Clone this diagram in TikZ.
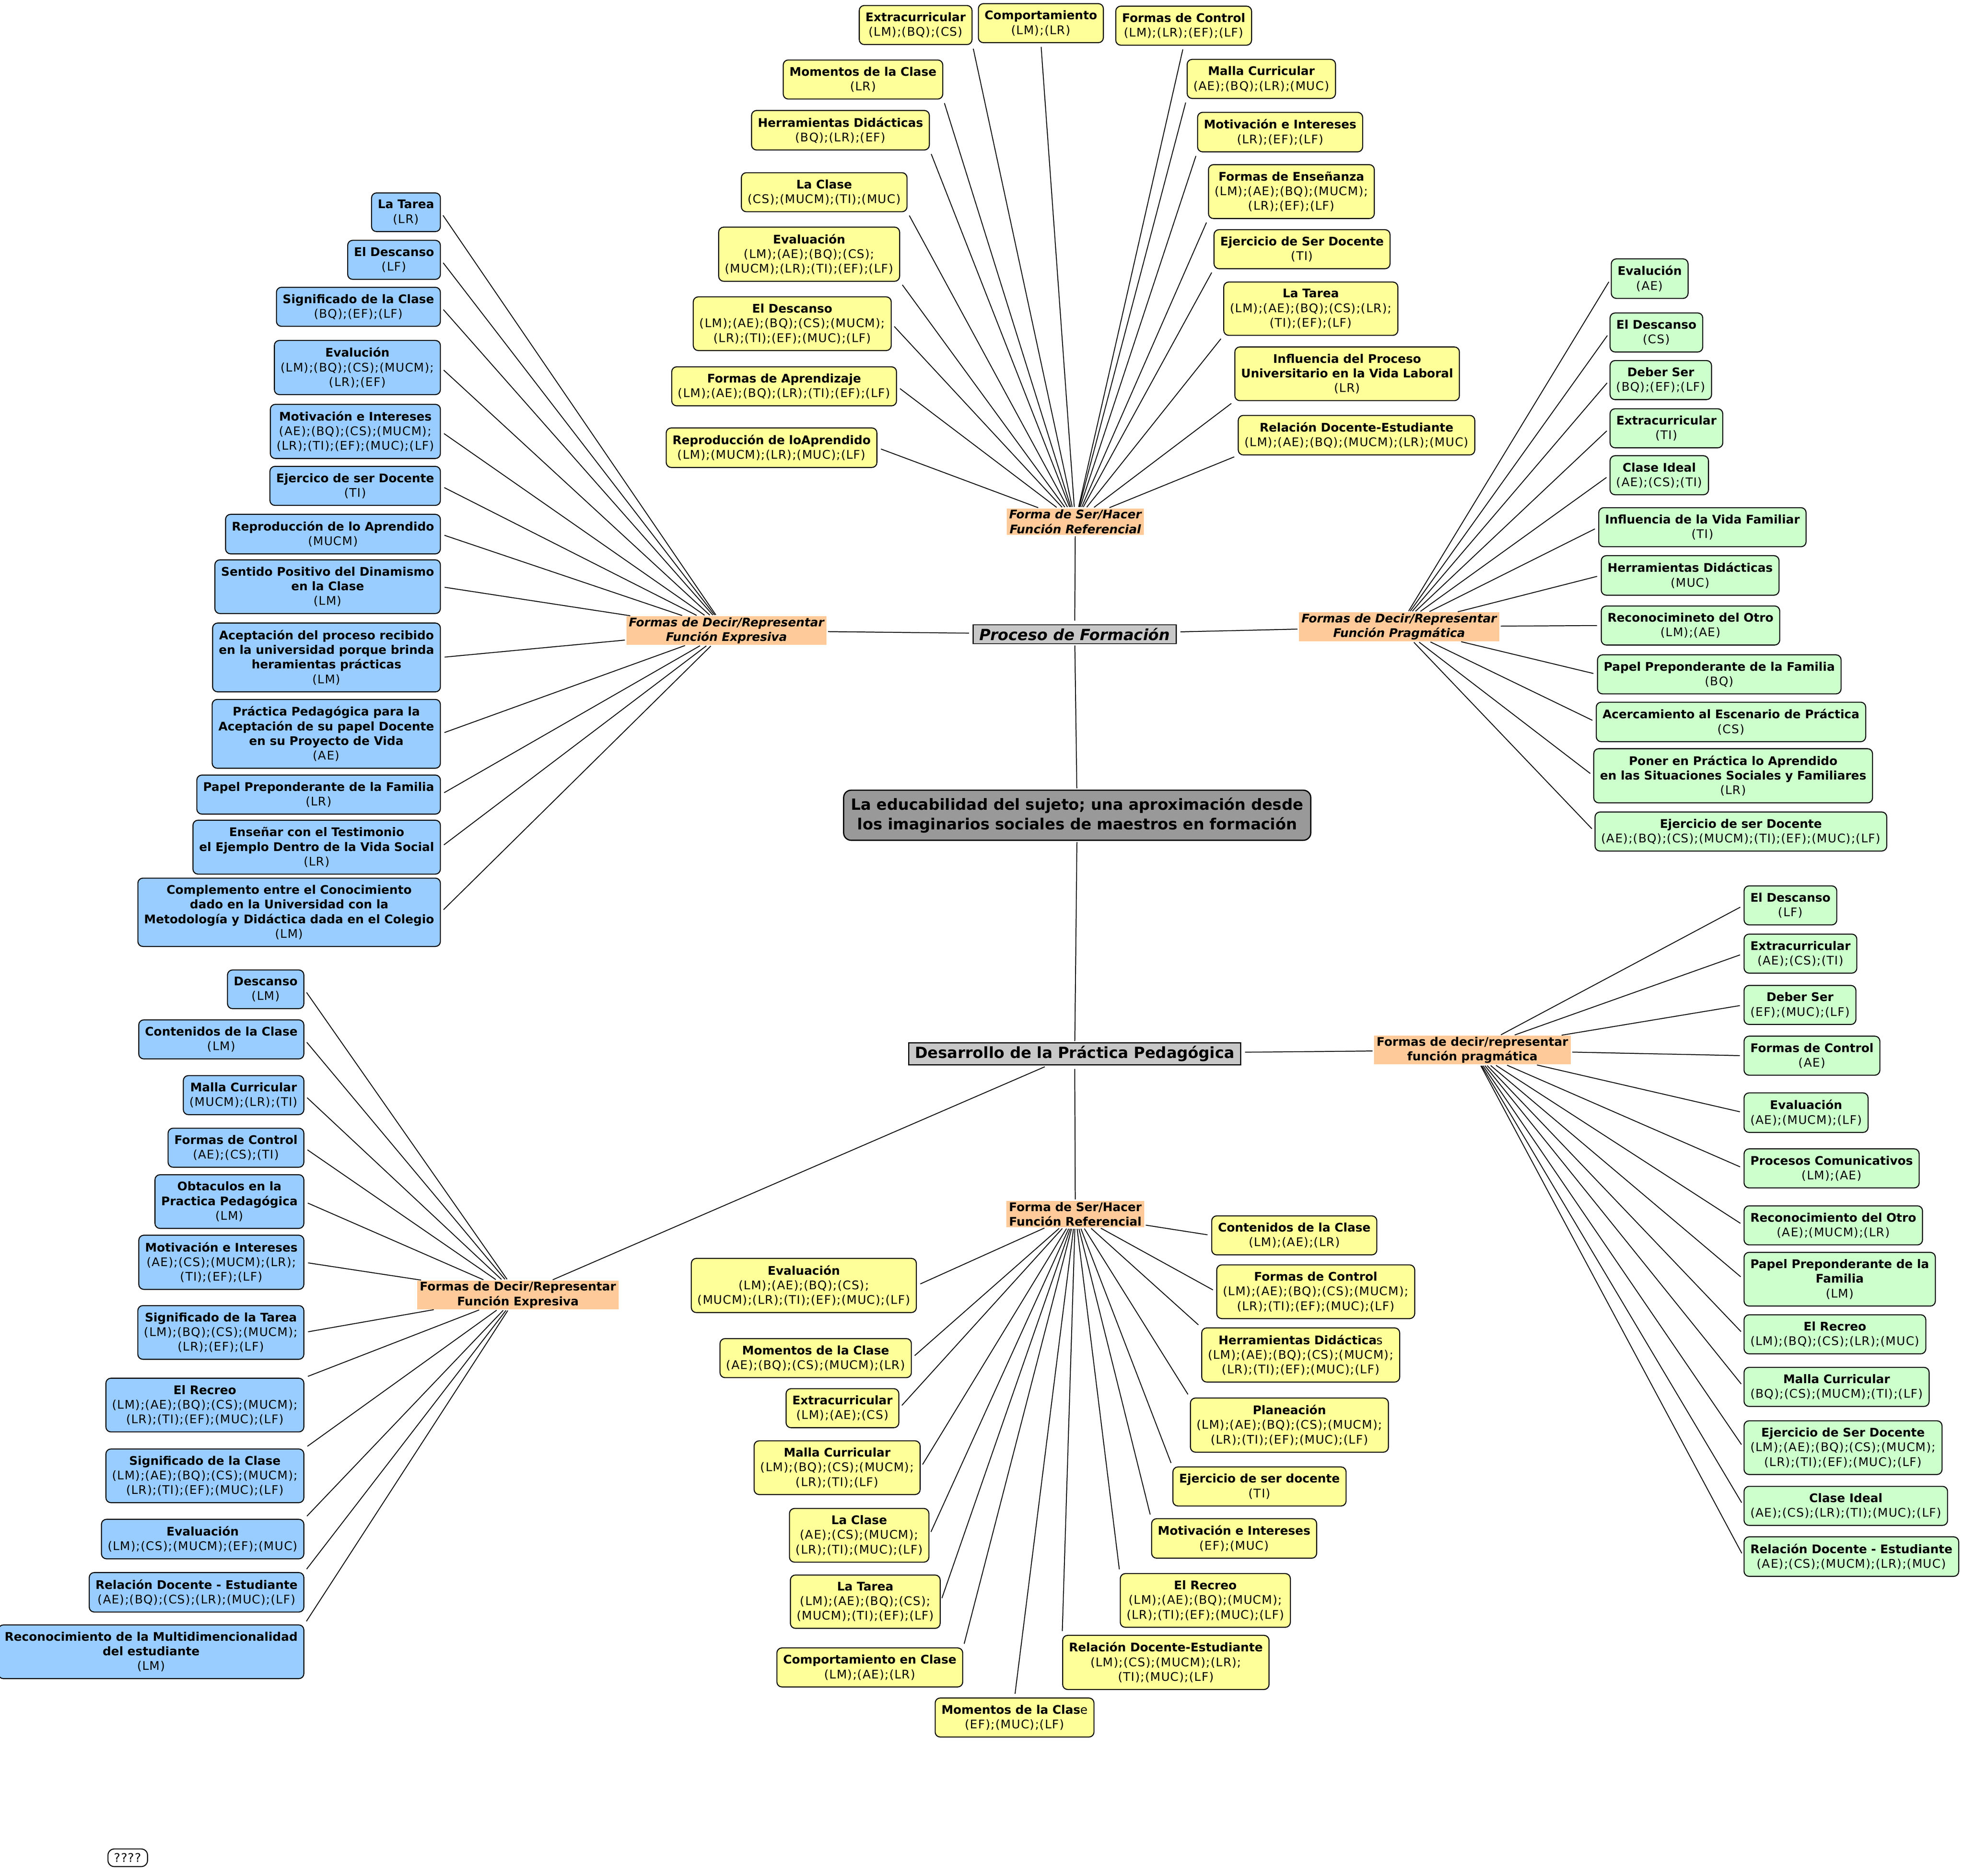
\documentclass[tikz,border=0pt]{standalone}
\usepackage{fontspec}
\setmainfont{DejaVu Sans}[UprightFeatures={LetterSpace=5}]
\definecolor{yelfill}{HTML}{FFFF99}
\definecolor{blufill}{HTML}{99CCFF}
\definecolor{grnfill}{HTML}{CCFFCC}
\definecolor{orgfill}{HTML}{FFCA99}
\definecolor{topicfill}{HTML}{C8C8C8}
\definecolor{rootfill}{HTML}{999999}
\begin{document}
\begin{tikzpicture}[x=1pt,y=1pt]
                      \tikzstyle{every node}+=[font=\fontsize{9.5}{11.7}\selectfont]
                      \tikzstyle{bx}=[draw=black, line width=0.8pt, rounded corners=4pt, align=center, inner xsep=5pt, inner ysep=5.5pt]
                      \tikzstyle{yel}=[bx, fill=yelfill]
                      \tikzstyle{blu}=[bx, fill=blufill]
                      \tikzstyle{grn}=[bx, fill=grnfill]
                      \tikzstyle{hub}=[fill=orgfill, align=center, inner xsep=2pt, inner ysep=1pt, font=\fontsize{9.5}{11.7}\selectfont\bfseries]
                      \tikzstyle{hubit}=[hub, font=\fontsize{9.5}{11.7}\selectfont\bfseries\itshape]
                      \tikzstyle{topic}=[draw=black, line width=0.8pt, fill=topicfill, inner xsep=5pt, inner ysep=2.5pt, font=\fontsize{12.3}{15.5}\selectfont\bfseries]
                      \tikzstyle{lnk}=[black, line width=0.7pt, shorten <=3pt, shorten >=1pt]
                      \useasboundingbox (0,0) rectangle (1568,-1498);
                      \node [bx, fill=rootfill, line width=1pt, rounded corners=6pt, inner xsep=6pt, inner ysep=6pt, font=\fontsize{12.3}{15.5}\selectfont\bfseries] (root) at (860,-651) {La educabilidad del sujeto; una aproximación desde\\ los imaginarios sociales de maestros en formación};
                      \node [topic, font=\fontsize{12.3}{15.5}\selectfont\bfseries\itshape] (proc) at (858,-506.5) {Proceso de Formación};
                      \node [topic] (desa) at (858,-841.5) {Desarrollo de la Práctica Pedagógica};
                      \node [hubit] (tr) at (858.5,-416.5) {Forma de Ser/Hacer\\Función Referencial};
                      \node [hubit] (le) at (580,-503.5) {Formas de Decir/Representar\\Función Expresiva};
                      \node [hubit] (rp) at (1117,-500.5) {Formas de Decir/Representar\\Función Pragmática};
                      \node [hub] (rl) at (1175.5,-838.5) {Formas de decir/representar\\función pragmática};
                      \node [hub] (br) at (858.5,-969.5) {Forma de Ser/Hacer\\Función Referencial};
                      \node [hub] (bl) at (413.5,-1034) {Formas de Decir/Representar\\Función Expresiva};
                      \draw [lnk, shorten <=1pt] (root) -- (proc);
                      \draw [lnk, shorten <=1pt] (root) -- (desa);
                      \draw [lnk] (proc) -- (tr);
                      \draw [lnk] (proc) -- (le);
                      \draw [lnk] (proc) -- (rp);
                      \draw [lnk] (desa) -- (rl);
                      \draw [lnk] (desa) -- (br);
                      \draw [lnk] (desa) -- (bl);
                      \node [yel] (ta) at (731,-20) {\textbf{Extracurricular}\\(LM);(BQ);(CS)};
                      \node [yel] (tb) at (831,-18.5) {\textbf{Comportamiento}\\(LM);(LR)};
                      \node [yel] (tc) at (945,-20.5) {\textbf{Formas de Control}\\(LM);(LR);(EF);(LF)};
                      \node [yel] (td) at (689,-63.5) {\textbf{Momentos de la Clase}\\(LR)};
                      \node [yel] (te) at (1007,-63) {\textbf{Malla Curricular}\\(AE);(BQ);(LR);(MUC)};
                      \node [yel] (tf) at (671,-104) {\textbf{Herramientas Didácticas}\\(BQ);(LR);(EF)};
                      \node [yel] (tg) at (1022,-105.5) {\textbf{Motivación e Intereses}\\(LR);(EF);(LF)};
                      \node [yel] (th) at (658,-153.5) {\textbf{La Clase}\\(CS);(MUCM);(TI);(MUC)};
                      \node [yel] (ti) at (1031,-153) {\textbf{Formas de Enseñanza}\\(LM);(AE);(BQ);(MUCM);\\(LR);(EF);(LF)};
                      \node [yel] (tj) at (646,-203) {\textbf{Evaluación}\\(LM);(AE);(BQ);(CS);\\(MUCM);(LR);(TI);(EF);(LF)};
                      \node [yel] (tk) at (1039.5,-199) {\textbf{Ejercicio de Ser Docente}\\(TI)};
                      \node [yel] (tl) at (632.5,-258.5) {\textbf{El Descanso}\\(LM);(AE);(BQ);(CS);(MUCM);\\(LR);(TI);(EF);(MUC);(LF)};
                      \node [yel] (tm) at (1046.5,-246.5) {\textbf{La Tarea}\\(LM);(AE);(BQ);(CS);(LR);\\(TI);(EF);(LF)};
                      \node [yel] (tn) at (626,-308.5) {\textbf{Formas de Aprendizaje}\\(LM);(AE);(BQ);(LR);(TI);(EF);(LF)};
                      \node [yel] (to) at (1075.5,-298.5) {\textbf{Influencia del Proceso}\\\textbf{Universitario en la Vida Laboral}\\(LR)};
                      \node [yel] (tp) at (616,-357.5) {\textbf{Reproducción de loAprendido}\\(LM);(MUCM);(LR);(MUC);(LF)};
                      \node [yel] (tq) at (1083,-347.5) {\textbf{Relación Docente-Estudiante}\\(LM);(AE);(BQ);(MUCM);(LR);(MUC)};
                      \draw [lnk] (ta.south east) -- (tr);
                      \draw [lnk] (tb.south) -- (tr);
                      \draw [lnk] (tc.south) -- (tr);
                      \draw [lnk] (td.south east) -- (tr);
                      \draw [lnk] (te.south west) -- (tr);
                      \draw [lnk] (tf.south east) -- (tr);
                      \draw [lnk] (tg.south west) -- (tr);
                      \draw [lnk] (th.south east) -- (tr);
                      \draw [lnk] (ti.south west) -- (tr);
                      \draw [lnk] (tj.south east) -- (tr);
                      \draw [lnk] (tk.south west) -- (tr);
                      \draw [lnk] (tl.east) -- (tr);
                      \draw [lnk] (tm.south west) -- (tr);
                      \draw [lnk] (tn.east) -- (tr);
                      \draw [lnk] (to.south west) -- (tr);
                      \draw [lnk] (tp.east) -- (tr);
                      \draw [lnk] (tq.south west) -- (tr);
                      \node [blu, anchor=east] (la1) at (352,-169.5) {\textbf{La Tarea}\\(LR)};
                      \node [blu, anchor=east] (la2) at (352,-207.5) {\textbf{El Descanso}\\(LF)};
                      \node [blu, anchor=east] (la3) at (352,-245) {\textbf{Significado de la Clase}\\(BQ);(EF);(LF)};
                      \node [blu, anchor=east] (la4) at (352,-293.5) {\textbf{Evalución}\\(LM);(BQ);(CS);(MUCM);\\(LR);(EF)};
                      \node [blu, anchor=east] (la5) at (352,-344.5) {\textbf{Motivación e Intereses}\\(AE);(BQ);(CS);(MUCM);\\(LR);(TI);(EF);(MUC);(LF)};
                      \node [blu, anchor=east] (la6) at (352,-388) {\textbf{Ejercico de ser Docente}\\(TI)};
                      \node [blu, anchor=east] (la7) at (352,-426.5) {\textbf{Reproducción de lo Aprendido}\\(MUCM)};
                      \node [blu, anchor=east] (la8) at (352,-468.5) {\textbf{Sentido Positivo del Dinamismo}\\\textbf{en la Clase}\\(LM)};
                      \node [blu, anchor=east] (la9) at (352,-525) {\textbf{Aceptación del proceso recibido}\\\textbf{en la universidad porque brinda}\\\textbf{heramientas prácticas}\\(LM)};
                      \node [blu, anchor=east] (la10) at (352,-586) {\textbf{Práctica Pedagógica para la}\\\textbf{Aceptación de su papel Docente}\\\textbf{en su Proyecto de Vida}\\(AE)};
                      \node [blu, anchor=east] (la11) at (352,-634.5) {\textbf{Papel Preponderante de la Familia}\\(LR)};
                      \node [blu, anchor=east] (la12) at (352,-676.5) {\textbf{Enseñar con el Testimonio}\\\textbf{el Ejemplo Dentro de la Vida Social}\\(LR)};
                      \node [blu, anchor=east] (la13) at (352,-728.5) {\textbf{Complemento entre el Conocimiento}\\\textbf{dado en la Universidad con la}\\\textbf{Metodología y Didáctica dada en el Colegio}\\(LM)};
                      \draw [lnk] (la1.east) -- (le);
                      \draw [lnk] (la2.east) -- (le);
                      \draw [lnk] (la3.east) -- (le);
                      \draw [lnk] (la4.east) -- (le);
                      \draw [lnk] (la5.east) -- (le);
                      \draw [lnk] (la6.east) -- (le);
                      \draw [lnk] (la7.east) -- (le);
                      \draw [lnk] (la8.east) -- (le);
                      \draw [lnk] (la9.east) -- (le);
                      \draw [lnk] (la10.east) -- (le);
                      \draw [lnk] (la11.east) -- (le);
                      \draw [lnk] (la12.east) -- (le);
                      \draw [lnk] (la13.east) -- (le);
                      \node [grn, anchor=west] (ra1) at (1286,-222.5) {\textbf{Evalución}\\(AE)};
                      \node [grn, anchor=west] (ra2) at (1285,-265.5) {\textbf{El Descanso}\\(CS)};
                      \node [grn, anchor=west] (ra3) at (1285,-303.5) {\textbf{Deber Ser}\\(BQ);(EF);(LF)};
                      \node [grn, anchor=west] (ra4) at (1285,-342) {\textbf{Extracurricular}\\(TI)};
                      \node [grn, anchor=west] (ra5) at (1285,-379.5) {\textbf{Clase Ideal}\\(AE);(CS);(TI)};
                      \node [grn, anchor=west] (ra6) at (1276,-421) {\textbf{Influencia de la Vida Familiar}\\(TI)};
                      \node [grn, anchor=west] (ra7) at (1278,-459.5) {\textbf{Herramientas Didácticas}\\(MUC)};
                      \node [grn, anchor=west] (ra8) at (1278,-499.5) {\textbf{Reconocimineto del Otro}\\(LM);(AE)};
                      \node [grn, anchor=west] (ra9) at (1275,-538.5) {\textbf{Papel Preponderante de la Familia}\\(BQ)};
                      \node [grn, anchor=west] (ra10) at (1274,-576.5) {\textbf{Acercamiento al Escenario de Práctica}\\(CS)};
                      \node [grn, anchor=west] (ra11) at (1272,-619.5) {\textbf{Poner en Práctica lo Aprendido}\\\textbf{en las Situaciones Sociales y Familiares}\\(LR)};
                      \node [grn, anchor=west] (ra12) at (1273,-664) {\textbf{Ejercicio de ser Docente}\\(AE);(BQ);(CS);(MUCM);(TI);(EF);(MUC);(LF)};
                      \draw [lnk] (ra1.west) -- (rp);
                      \draw [lnk] (ra2.west) -- (rp);
                      \draw [lnk] (ra3.west) -- (rp);
                      \draw [lnk] (ra4.west) -- (rp);
                      \draw [lnk] (ra5.west) -- (rp);
                      \draw [lnk] (ra6.west) -- (rp);
                      \draw [lnk] (ra7.west) -- (rp);
                      \draw [lnk] (ra8.west) -- (rp);
                      \draw [lnk] (ra9.west) -- (rp);
                      \draw [lnk] (ra10.west) -- (rp);
                      \draw [lnk] (ra11.west) -- (rp);
                      \draw [lnk] (ra12.west) -- (rp);
                      \node [grn, anchor=west] (rb1) at (1392,-723) {\textbf{El Descanso}\\(LF)};
                      \node [grn, anchor=west] (rb2) at (1392,-761.5) {\textbf{Extracurricular}\\(AE);(CS);(TI)};
                      \node [grn, anchor=west] (rb3) at (1392,-802.5) {\textbf{Deber Ser}\\(EF);(MUC);(LF)};
                      \node [grn, anchor=west] (rb4) at (1392,-843) {\textbf{Formas de Control}\\(AE)};
                      \node [grn, anchor=west] (rb5) at (1392,-888.5) {\textbf{Evaluación}\\(AE);(MUCM);(LF)};
                      \node [grn, anchor=west] (rb6) at (1392,-933) {\textbf{Procesos Comunicativos}\\(LM);(AE)};
                      \node [grn, anchor=west] (rb7) at (1392,-978.5) {\textbf{Reconocimiento del Otro}\\(AE);(MUCM);(LR)};
                      \node [grn, anchor=west] (rb8) at (1392,-1021.5) {\textbf{Papel Preponderante de la}\\\textbf{Familia}\\(LM)};
                      \node [grn, anchor=west] (rb9) at (1392,-1065.5) {\textbf{El Recreo}\\(LM);(BQ);(CS);(LR);(MUC)};
                      \node [grn, anchor=west] (rb10) at (1392,-1107.5) {\textbf{Malla Curricular}\\(BQ);(CS);(MUCM);(TI);(LF)};
                      \node [grn, anchor=west] (rb11) at (1392,-1156) {\textbf{Ejercicio de Ser Docente}\\(LM);(AE);(BQ);(CS);(MUCM);\\(LR);(TI);(EF);(MUC);(LF)};
                      \node [grn, anchor=west] (rb12) at (1392,-1202.5) {\textbf{Clase Ideal}\\(AE);(CS);(LR);(TI);(MUC);(LF)};
                      \node [grn, anchor=west] (rb13) at (1392,-1243) {\textbf{Relación Docente - Estudiante}\\(AE);(CS);(MUCM);(LR);(MUC)};
                      \draw [lnk] (rb1.west) -- (rl);
                      \draw [lnk] (rb2.west) -- (rl);
                      \draw [lnk] (rb3.west) -- (rl);
                      \draw [lnk] (rb4.west) -- (rl);
                      \draw [lnk] (rb5.west) -- (rl);
                      \draw [lnk] (rb6.west) -- (rl);
                      \draw [lnk] (rb7.west) -- (rl);
                      \draw [lnk] (rb8.west) -- (rl);
                      \draw [lnk] (rb9.west) -- (rl);
                      \draw [lnk] (rb10.west) -- (rl);
                      \draw [lnk] (rb11.west) -- (rl);
                      \draw [lnk] (rb12.west) -- (rl);
                      \draw [lnk] (rb13.west) -- (rl);
                      \node [yel, anchor=east] (ba1) at (732,-1026.5) {\textbf{Evaluación}\\(LM);(AE);(BQ);(CS);\\(MUCM);(LR);(TI);(EF);(MUC);(LF)};
                      \node [yel, anchor=east] (ba2) at (728,-1084.5) {\textbf{Momentos de la Clase}\\(AE);(BQ);(CS);(MUCM);(LR)};
                      \node [yel, anchor=east] (ba3) at (718,-1124.5) {\textbf{Extracurricular}\\(LM);(AE);(CS)};
                      \node [yel, anchor=east] (ba4) at (735,-1172) {\textbf{Malla Curricular}\\(LM);(BQ);(CS);(MUCM);\\(LR);(TI);(LF)};
                      \node [yel, anchor=east] (ba5) at (742,-1226) {\textbf{La Clase}\\(AE);(CS);(MUCM);\\(LR);(TI);(MUC);(LF)};
                      \node [yel, anchor=east] (ba6) at (751,-1279) {\textbf{La Tarea}\\(LM);(AE);(BQ);(CS);\\(MUCM);(TI);(EF);(LF)};
                      \node [yel, anchor=east] (ba7) at (769,-1331.5) {\textbf{Comportamiento en Clase}\\(LM);(AE);(LR)};
                      \node [yel] (ba8) at (810,-1371.5) {\textbf{Momentos de la Clas}e\\(EF);(MUC);(LF)};
                      \node [yel, anchor=west] (bb1) at (967,-986.5) {\textbf{Contenidos de la Clase}\\(LM);(AE);(LR)};
                      \node [yel, anchor=west] (bb2) at (971,-1031.5) {\textbf{Formas de Control}\\(LM);(AE);(BQ);(CS);(MUCM);\\(LR);(TI);(EF);(MUC);(LF)};
                      \node [yel, anchor=west] (bb3) at (959,-1082) {\textbf{Herramientas Didáctica}s\\(LM);(AE);(BQ);(CS);(MUCM);\\(LR);(TI);(EF);(MUC);(LF)};
                      \node [yel, anchor=west] (bb4) at (950,-1138) {\textbf{Planeación}\\(LM);(AE);(BQ);(CS);(MUCM);\\(LR);(TI);(EF);(MUC);(LF)};
                      \node [yel, anchor=west] (bb5) at (936,-1187) {\textbf{Ejercicio de ser docente}\\(TI)};
                      \node [yel, anchor=west] (bb6) at (919,-1228.5) {\textbf{Motivación e Intereses}\\(EF);(MUC)};
                      \node [yel, anchor=west] (bb7) at (894,-1278) {\textbf{El Recreo}\\(LM);(AE);(BQ);(MUCM);\\(LR);(TI);(EF);(MUC);(LF)};
                      \node [yel, anchor=west] (bb8) at (848,-1327.5) {\textbf{Relación Docente-Estudiante}\\(LM);(CS);(MUCM);(LR);\\(TI);(MUC);(LF)};
                      \draw [lnk] (ba1.east) -- (br);
                      \draw [lnk] (ba2.east) -- (br);
                      \draw [lnk] (ba3.east) -- (br);
                      \draw [lnk] (ba4.east) -- (br);
                      \draw [lnk] (ba5.east) -- (br);
                      \draw [lnk] (ba6.east) -- (br);
                      \draw [lnk] (ba7.north east) -- (br);
                      \draw [lnk] (ba8.north) -- (br);
                      \draw [lnk] (bb1.west) -- (br);
                      \draw [lnk] (bb2.west) -- (br);
                      \draw [lnk] (bb3.north west) -- (br);
                      \draw [lnk] (bb4.north west) -- (br);
                      \draw [lnk] (bb5.north west) -- (br);
                      \draw [lnk] (bb6.north west) -- (br);
                      \draw [lnk] (bb7.north west) -- (br);
                      \draw [lnk] (bb8.north west) -- (br);
                      \node [blu, anchor=east] (lb1) at (243,-790) {\textbf{Descanso}\\(LM)};
                      \node [blu, anchor=east] (lb2) at (243,-830) {\textbf{Contenidos de la Clase}\\(LM)};
                      \node [blu, anchor=east] (lb3) at (243,-874.5) {\textbf{Malla Curricular}\\(MUCM);(LR);(TI)};
                      \node [blu, anchor=east] (lb4) at (243,-916.5) {\textbf{Formas de Control}\\(AE);(CS);(TI)};
                      \node [blu, anchor=east] (lb5) at (243,-959.5) {\textbf{Obtaculos en la}\\\textbf{Practica Pedagógica}\\(LM)};
                      \node [blu, anchor=east] (lb6) at (243,-1008) {\textbf{Motivación e Intereses}\\(AE);(CS);(MUCM);(LR);\\(TI);(EF);(LF)};
                      \node [blu, anchor=east] (lb7) at (243,-1064) {\textbf{Significado de la Tarea}\\(LM);(BQ);(CS);(MUCM);\\(LR);(EF);(LF)};
                      \node [blu, anchor=east] (lb8) at (243,-1122) {\textbf{El Recreo}\\(LM);(AE);(BQ);(CS);(MUCM);\\(LR);(TI);(EF);(MUC);(LF)};
                      \node [blu, anchor=east] (lb9) at (243,-1178.5) {\textbf{Significado de la Clase}\\(LM);(AE);(BQ);(CS);(MUCM);\\(LR);(TI);(EF);(MUC);(LF)};
                      \node [blu, anchor=east] (lb10) at (243,-1229) {\textbf{Evaluación}\\(LM);(CS);(MUCM);(EF);(MUC)};
                      \node [blu, anchor=east] (lb11) at (243,-1271.5) {\textbf{Relación Docente - Estudiante}\\(AE);(BQ);(CS);(LR);(MUC);(LF)};
                      \node [blu, anchor=east] (lb12) at (243,-1319) {\textbf{Reconocimiento de la Multidimencionalidad}\\\textbf{del estudiante}\\(LM)};
                      \draw [lnk] (lb1.east) -- (bl);
                      \draw [lnk] (lb2.east) -- (bl);
                      \draw [lnk] (lb3.east) -- (bl);
                      \draw [lnk] (lb4.east) -- (bl);
                      \draw [lnk] (lb5.east) -- (bl);
                      \draw [lnk] (lb6.east) -- (bl);
                      \draw [lnk] (lb7.east) -- (bl);
                      \draw [lnk] (lb8.north east) -- (bl);
                      \draw [lnk] (lb9.north east) -- (bl);
                      \draw [lnk] (lb10.north east) -- (bl);
                      \draw [lnk] (lb11.north east) -- (bl);
                      \draw [lnk] (lb12.north east) -- (bl);
                      \node [bx, fill=white, rounded corners=5pt, inner ysep=3.5pt] (qq) at (102,-1483.5) {????};
                  \end{tikzpicture}
\end{document}
